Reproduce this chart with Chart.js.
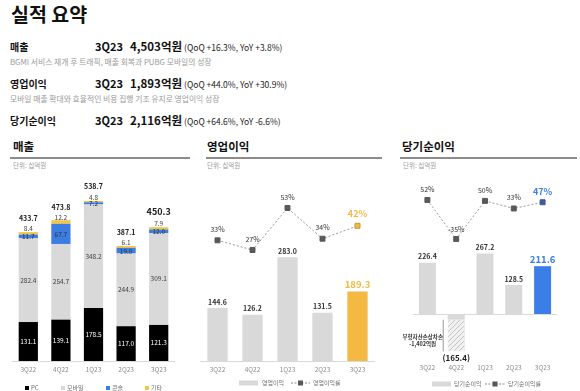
<!DOCTYPE html>
<html>
<head>
<meta charset="utf-8">
<title>실적 요약</title>
<script src="https://cdn.jsdelivr.net/npm/chart.js"></script>
<style>
  body { margin:0; width:580px; height:391px; background:#fff; position:relative; overflow:hidden;
         font-family:"Noto Sans CJK KR","Noto Sans",sans-serif; color:#111; }
  .abs { position:absolute; white-space:nowrap; line-height:1; }
  .title { left:11px; top:4px; font-size:19.5px; font-weight:700; }
  .row { position:absolute; left:10px; display:flex; align-items:baseline; white-space:nowrap; line-height:1; }
  .row .lbl { width:85px; font-size:10px; font-weight:700; }
  .row .q { width:35px; font-size:11px; font-weight:700; }
  .row .v { font-size:11.5px; font-weight:700; margin-right:2px; }
  .row .p { font-size:8.5px; color:#222; }
  .sub { left:10px; font-size:7.8px; color:#9a9a9a; }
  .sec { font-size:11.5px; font-weight:700; top:140.5px; }
  .rule { position:absolute; height:2px; background:#8c8c8c; top:157px; }
  .unit { font-size:6.5px; color:#9a9a9a; top:161.5px; }
  canvas { position:absolute; top:170px; }
</style>
</head>
<body>
  <div class="abs title">실적 요약</div>

  <div class="row" style="top:40.5px"><span class="lbl">매출</span><span class="q">3Q23</span><span class="v">4,503억원</span><span class="p">(QoQ +16.3%, YoY +3.8%)</span></div>
  <div class="abs sub" style="top:57.8px">BGMI 서비스 재개 후 트래픽, 매출 회복과 PUBG 모바일의 성장</div>

  <div class="row" style="top:78px"><span class="lbl">영업이익</span><span class="q">3Q23</span><span class="v">1,893억원</span><span class="p">(QoQ +44.0%, YoY +30.9%)</span></div>
  <div class="abs sub" style="top:94.8px">모바일 매출 확대와 효율적인 비용 집행 기조 유지로 영업이익 성장</div>

  <div class="row" style="top:114.5px"><span class="lbl">당기순이익</span><span class="q">3Q23</span><span class="v">2,116억원</span><span class="p">(QoQ +64.6%, YoY -6.6%)</span></div>

  <div class="abs sec" style="left:13px">매출</div>
  <div class="rule" style="left:10px; width:180px"></div>
  <div class="abs unit" style="left:13px">단위: 십억원</div>

  <div class="abs sec" style="left:207px">영업이익</div>
  <div class="rule" style="left:206px; width:176px"></div>
  <div class="abs unit" style="left:207px">단위: 십억원</div>

  <div class="abs sec" style="left:402px">당기순이익</div>
  <div class="rule" style="left:400px; width:177px"></div>
  <div class="abs unit" style="left:403px">단위: 십억원</div>

  <canvas id="c1" width="195" height="221" style="left:0px"></canvas>
  <canvas id="c2" width="190" height="221" style="left:195px"></canvas>
  <canvas id="c3" width="195" height="221" style="left:385px"></canvas>

<script>
const quarters = ['3Q22', '4Q22', '1Q23', '2Q23', '3Q23'];

// 매출 (십억원)
const salesPC = [131.1, 139.1, 178.5, 117.0, 121.3];
const salesMobile = [282.4, 254.7, 348.2, 244.9, 309.1];
const salesConsole = [11.7, 67.7, 7.2, 19.0, 12.0];
const salesOther = [8.4, 12.2, 4.8, 6.1, 7.9];
const salesTotal = [433.7, 473.8, 538.7, 387.1, 450.3];

// 영업이익 / 영업이익률(%)
const opProfit = [144.6, 126.2, 283.0, 131.5, 189.3];
const opMargin = [33, 27, 53, 34, 42];

// 당기순이익 (4Q22는 무형자산손상차손 -140.2 분리) / 당기순이익률(%)
const netProfit = [226.4, -25.2, 267.2, 128.5, 211.6];
const netImpairment = [null, -140.2, null, null, null];
const netMargin = [52, -35, 50, 33, 47];

const FONT = '"Noto Sans CJK KR", "Noto Sans", sans-serif';
Chart.defaults.font.family = FONT;

const GRAY = '#d9d9d9', GOLD = '#f4b942', BLUE = '#3b7ee8';
const last = quarters.length - 1;

function txt(ctx, s, x, y, font, color, align) {
  ctx.font = font + ' ' + FONT;
  ctx.fillStyle = color;
  ctx.textAlign = align || 'center';
  ctx.textBaseline = 'middle';
  ctx.fillText(s, x, y);
}

// 0 기준선
const baseline = {
  id: 'baseline',
  beforeDatasetsDraw(chart) {
    const { ctx, chartArea, scales } = chart;
    const y = Math.round(scales.y.getPixelForValue(0)) + 0.5;
    ctx.save();
    ctx.strokeStyle = GRAY;
    ctx.lineWidth = 1;
    ctx.beginPath();
    ctx.moveTo(chartArea.left, y);
    ctx.lineTo(chartArea.right, y);
    ctx.stroke();
    ctx.restore();
  }
};

function lineLegend(ctx, x0, x1, y, color) {
  ctx.save();
  ctx.strokeStyle = '#8c8c8c';
  ctx.lineWidth = 1;
  ctx.setLineDash([2, 1.5]);
  ctx.beginPath();
  ctx.moveTo(x0, y);
  ctx.lineTo(x1, y);
  ctx.stroke();
  ctx.fillStyle = color;
  const cx = (x0 + x1) / 2;
  ctx.fillRect(cx - 2.5, y - 2.5, 5, 5);
  ctx.restore();
}

const baseOpts = (padding, ticksPad) => ({
  responsive: false,
  animation: false,
  devicePixelRatio: 1,
  layout: { padding: padding },
  plugins: { legend: { display: false }, tooltip: { enabled: false } },
  scales: {
    x: {
      stacked: true,
      grid: { display: false, drawTicks: false },
      border: { display: false },
      ticks: { color: '#8c8c8c', font: { size: 6.5 }, padding: ticksPad },
      afterFit: s => { s.height = 30; }
    }
  }
});

// ---- 매출 ----
const salesLabels = {
  id: 'salesLabels',
  afterDatasetsDraw(chart) {
    const ctx = chart.ctx;
    const meta = i => chart.getDatasetMeta(i).data;
    ctx.save();
    quarters.forEach((q, j) => {
      const pc = meta(0)[j], mob = meta(1)[j], con = meta(2)[j], oth = meta(3)[j];
      txt(ctx, salesPC[j].toFixed(1), pc.x, (pc.y + pc.base) / 2, '6.5px', '#fff');
      txt(ctx, salesMobile[j].toFixed(1), mob.x, (mob.y + mob.base) / 2, '6.5px', '#404040');
      txt(ctx, salesConsole[j].toFixed(1), con.x, (con.y + con.base) / 2 + 0.5, '6.5px', '#333');
      const oy = (oth.y + oth.base) / 2 - 4.5;
      txt(ctx, salesOther[j].toFixed(1), oth.x, oy, '6.5px', '#404040');
      if (j === last) txt(ctx, salesTotal[j].toFixed(1), oth.x, oy - 12, 'bold 9px', '#222');
      else txt(ctx, salesTotal[j].toFixed(1), oth.x, oy - 10.5, 'bold 7px', '#222');
    });
    ctx.restore();
  },
  afterDraw(chart) {
    const ctx = chart.ctx;
    const items = [['PC', 27, '#000'], ['모바일', 63, GRAY], ['콘솔', 108, '#3b7de3'], ['기타', 147, '#f4c443']];
    const y = 218;
    ctx.save();
    items.forEach(([name, x, c]) => {
      ctx.fillStyle = c;
      ctx.fillRect(x - 2, y - 2, 4, 4);
      txt(ctx, name, x + 4, y, '6px', '#707070', 'left');
    });
    ctx.restore();
  }
};

const opt1 = baseOpts({ left: 12, right: 20, top: 10, bottom: 0 }, 5);
opt1.scales.y = { display: false, stacked: true, min: 0, max: 609 };
opt1.datasets = { bar: { categoryPercentage: 1, barPercentage: 0.59 } };

new Chart(document.getElementById('c1'), {
  type: 'bar',
  data: {
    labels: quarters,
    datasets: [
      { label: 'PC', data: salesPC, backgroundColor: '#000' },
      { label: '모바일', data: salesMobile, backgroundColor: GRAY },
      { label: '콘솔', data: salesConsole, backgroundColor: '#3b7de3' },
      { label: '기타', data: salesOther, backgroundColor: '#f4c443' }
    ]
  },
  options: opt1,
  plugins: [baseline, salesLabels]
});

// ---- 영업이익 ----
const opLabels = {
  id: 'opLabels',
  afterDatasetsDraw(chart) {
    const ctx = chart.ctx;
    const pts = chart.getDatasetMeta(0).data;
    const bars = chart.getDatasetMeta(1).data;
    ctx.save();
    quarters.forEach((q, j) => {
      const b = bars[j], p = pts[j];
      if (j === last) {
        txt(ctx, opProfit[j].toFixed(1), b.x, b.y - 7.5, 'bold 9.5px', GOLD);
        txt(ctx, opMargin[j] + '%', p.x, p.y - 12, 'bold 9px', GOLD);
      } else {
        txt(ctx, opProfit[j].toFixed(1), b.x, b.y - 6, 'bold 7px', '#333');
        txt(ctx, opMargin[j] + '%', p.x, p.y - 11, '7px', '#333');
      }
    });
    ctx.restore();
  },
  afterDraw(chart) {
    const ctx = chart.ctx;
    const y = 213;
    ctx.save();
    ctx.fillStyle = GRAY;
    ctx.fillRect(44, y - 2.5, 19, 5);
    txt(ctx, '영업이익', 67, y, '6px', '#707070', 'left');
    lineLegend(ctx, 96, 115, y, '#595959');
    txt(ctx, '영업이익률', 118, y, '6px', '#707070', 'left');
    ctx.restore();
  }
};

const opt2 = baseOpts({ left: 0, right: 10, top: 20, bottom: 0 }, 5);
opt2.scales.y = { display: false, stacked: true, min: 0, max: 466 };
opt2.scales.y1 = { display: false, min: -41.7, max: 64.15 };

new Chart(document.getElementById('c2'), {
  type: 'bar',
  data: {
    labels: quarters,
    datasets: [
      {
        type: 'line', label: '영업이익률', data: opMargin, yAxisID: 'y1', order: 0, clip: false,
        borderColor: '#9a9a9a', borderWidth: 1, borderDash: [2, 2], tension: 0,
        pointStyle: 'rect', pointRadius: 3.5, pointBorderWidth: 1,
        pointBackgroundColor: quarters.map((q, i) => i === last ? GOLD : '#595959'),
        pointBorderColor: quarters.map((q, i) => i === last ? '#c8952a' : '#595959')
      },
      {
        label: '영업이익', data: opProfit, yAxisID: 'y', order: 1,
        categoryPercentage: 1, barPercentage: 0.58,
        backgroundColor: quarters.map((q, i) => i === last ? GOLD : GRAY)
      }
    ]
  },
  options: opt2,
  plugins: [baseline, opLabels]
});

// ---- 당기순이익 ----
const c3 = document.getElementById('c3');
const tile = document.createElement('canvas');
tile.width = 5; tile.height = 5;
const tctx = tile.getContext('2d');
tctx.fillStyle = '#f1f1f1';
tctx.fillRect(0, 0, 5, 5);
tctx.strokeStyle = '#b8b8b8';
tctx.lineWidth = 0.8;
tctx.beginPath();
tctx.moveTo(0, 5); tctx.lineTo(5, 0);
tctx.moveTo(-1, 1); tctx.lineTo(1, -1);
tctx.moveTo(4, 6); tctx.lineTo(6, 4);
tctx.stroke();
const hatch = c3.getContext('2d').createPattern(tile, 'repeat');

const netLabels = {
  id: 'netLabels',
  afterDatasetsDraw(chart) {
    const ctx = chart.ctx;
    const ys = chart.scales.y;
    const pts = chart.getDatasetMeta(0).data;
    const bars = chart.getDatasetMeta(1).data;
    const imp = chart.getDatasetMeta(2).data;
    ctx.save();
    quarters.forEach((q, j) => {
      const b = bars[j], p = pts[j];
      const total = netProfit[j] + (netImpairment[j] || 0);
      const py = ys.getPixelForValue(total);
      if (j === last) {
        txt(ctx, total.toFixed(1), b.x, py - 7, 'bold 9.5px', BLUE);
        txt(ctx, netMargin[j] + '%', p.x, p.y - 11, 'bold 9px', BLUE);
      } else {
        const s = total < 0 ? '(' + Math.abs(total).toFixed(1) + ')' : total.toFixed(1);
        if (total < 0) txt(ctx, s, b.x, py + 7, 'bold 8px', '#222');
        else txt(ctx, s, b.x, py - 6, 'bold 7px', '#333');
        txt(ctx, netMargin[j] + '%', p.x, p.y - (netMargin[j] < 0 ? 10 : 11), '7px', '#333');
      }
      if (netImpairment[j] !== null) {
        const e = imp[j];
        const left = e.x - e.width / 2;
        ctx.strokeStyle = '#9a9a9a';
        ctx.lineWidth = 1;
        ctx.beginPath();
        ctx.moveTo(left - 4.5, Math.min(e.y, e.base));
        ctx.lineTo(left - 4.5, Math.max(e.y, e.base));
        ctx.stroke();
        txt(ctx, '무형자산손상차손', left - 25, 337 - 170, 'bold 5.5px', '#333');
        txt(ctx, '-1,402억원', left - 25, 344 - 170, 'bold 5.5px', '#333');
      }
    });
    ctx.restore();
  },
  afterDraw(chart) {
    const ctx = chart.ctx;
    const y = 214;
    ctx.save();
    ctx.fillStyle = GRAY;
    ctx.fillRect(47, y - 2.5, 19, 5);
    txt(ctx, '당기순이익', 69, y, '6px', '#707070', 'left');
    lineLegend(ctx, 100, 120, y, '#595959');
    txt(ctx, '당기순이익률', 123, y, '6px', '#707070', 'left');
    ctx.restore();
  }
};

const opt3 = baseOpts({ left: 28, right: 23, top: 20, bottom: 0 }, 3);
opt3.scales.y = { display: false, stacked: true, min: -208, max: 548.7 };
opt3.scales.y1 = { display: false, min: -307.4, max: 74.3 };

new Chart(c3, {
  type: 'bar',
  data: {
    labels: quarters,
    datasets: [
      {
        type: 'line', label: '당기순이익률', data: netMargin, yAxisID: 'y1', order: 0, clip: false,
        borderColor: '#9a9a9a', borderWidth: 1, borderDash: [2, 2], tension: 0,
        pointStyle: 'rect', pointRadius: 3.5, pointBorderWidth: 1,
        pointBackgroundColor: quarters.map((q, i) => i === last ? '#3d5a99' : '#595959'),
        pointBorderColor: quarters.map((q, i) => i === last ? '#3d5a99' : '#595959')
      },
      {
        label: '당기순이익', data: netProfit, yAxisID: 'y', order: 1, stack: 'n',
        categoryPercentage: 1, barPercentage: 0.59,
        backgroundColor: quarters.map((q, i) => i === last ? BLUE : GRAY)
      },
      {
        label: '무형자산손상차손', data: netImpairment, yAxisID: 'y', order: 2, stack: 'n',
        categoryPercentage: 1, barPercentage: 0.59,
        backgroundColor: hatch, borderColor: '#c8c8c8', borderWidth: 0.5
      }
    ]
  },
  options: opt3,
  plugins: [baseline, netLabels]
});
</script>
</body>
</html>
